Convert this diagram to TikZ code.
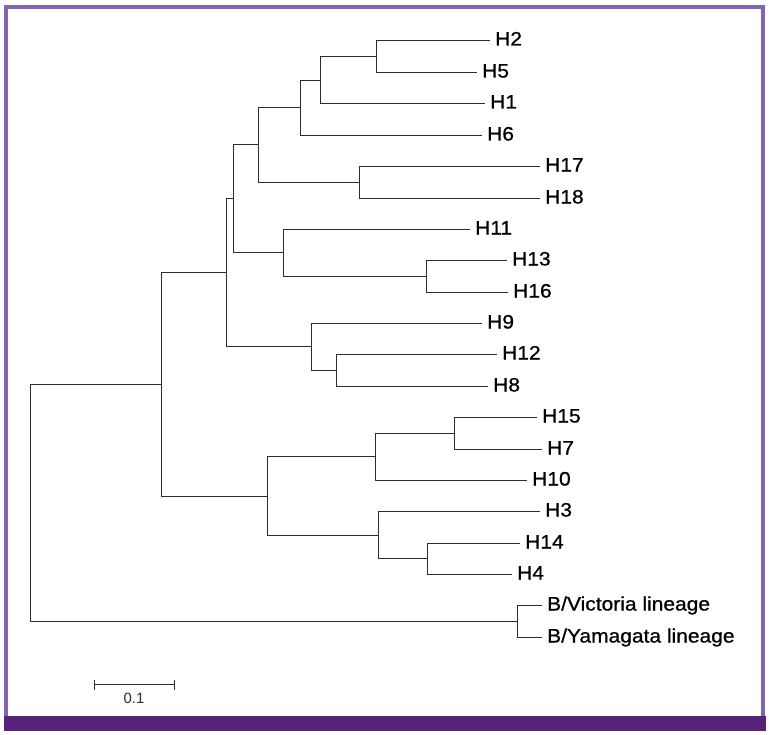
\documentclass[tikz,border=0pt]{standalone}
\usepackage{fontspec}
\newfontfamily\labfont[FakeStretch=1.08,FakeBold=0.8]{Liberation Sans}
\newfontfamily\sbfont{Liberation Sans}
\definecolor{brcol}{RGB}{45,45,45}
\definecolor{bordercol}{RGB}{132,100,178}
\definecolor{barcol}{RGB}{88,34,120}
\begin{document}
\begin{tikzpicture}[x=1bp,y=-1bp,
  br/.style={draw=brcol,line width=1.8bp},
  lab/.style={anchor=base west,inner sep=0pt,xshift=5bp,yshift=-5bp,font=\labfont\fontsize{19.5}{21}\selectfont,text=black},
  sblab/.style={anchor=base,inner sep=0pt,font=\sbfont\fontsize{15}{16}\selectfont,text=brcol}]
\useasboundingbox (0,0) rectangle (772,735);
\fill[white] (0,0) rectangle (772,735);
% frame
\draw[bordercol,line width=4bp] (5.5,716) -- (5.5,7.5) -- (763,7.5) -- (763,716);
\fill[barcol] (3.5,716) rectangle (765.5,730.5);
% internal nodes
\coordinate (n25) at (376.5,56.5);
\coordinate (n251) at (320.5,80.5);
\coordinate (n2516) at (300.5,107.5);
\coordinate (n1718) at (359.5,182.5);
\coordinate (nA) at (258.5,144.5);
\coordinate (n1316) at (426.5,276.5);
\coordinate (n11) at (283.5,252.5);
\coordinate (nB) at (233.5,198.5);
\coordinate (n128) at (336.5,370.5);
\coordinate (n9) at (311.5,346.5);
\coordinate (nC) at (226.5,272.5);
\coordinate (n157) at (454.5,433.5);
\coordinate (n10) at (375.5,456.5);
\coordinate (n144) at (427.5,558.5);
\coordinate (n3) at (378.5,535.5);
\coordinate (nD) at (267.5,496.5);
\coordinate (nE) at (161.5,384.5);
\coordinate (nBL) at (517.5,621.5);
\coordinate (root) at (30.5,503);
% leaf ends
\coordinate (eH2) at (490,40.5);
\coordinate (eH5) at (477,72.5);
\coordinate (eH1) at (485,103.5);
\coordinate (eH6) at (482,135.5);
\coordinate (eH17) at (540,166.5);
\coordinate (eH18) at (540,198.5);
\coordinate (eH11) at (470,229.5);
\coordinate (eH13) at (507,260.5);
\coordinate (eH16) at (508,292.5);
\coordinate (eH9) at (482,323.5);
\coordinate (eH12) at (497,354.5);
\coordinate (eH8) at (488,386.5);
\coordinate (eH15) at (537,417.5);
\coordinate (eH7) at (542,449.5);
\coordinate (eH10) at (527,480.5);
\coordinate (eH3) at (540,511.5);
\coordinate (eH14) at (520,543.5);
\coordinate (eH4) at (512,574.5);
\coordinate (eBV) at (542,605.5);
\coordinate (eBY) at (542,637.5);
% labels
\node[lab] (H2) at (eH2) {H2};
\node[lab] (H5) at (eH5) {H5};
\node[lab] (H1) at (eH1) {H1};
\node[lab] (H6) at (eH6) {H6};
\node[lab] (H17) at (eH17) {H17};
\node[lab] (H18) at (eH18) {H18};
\node[lab] (H11) at (eH11) {H11};
\node[lab] (H13) at (eH13) {H13};
\node[lab] (H16) at (eH16) {H16};
\node[lab] (H9) at (eH9) {H9};
\node[lab] (H12) at (eH12) {H12};
\node[lab] (H8) at (eH8) {H8};
\node[lab] (H15) at (eH15) {H15};
\node[lab] (H7) at (eH7) {H7};
\node[lab] (H10) at (eH10) {H10};
\node[lab] (H3) at (eH3) {H3};
\node[lab] (H14) at (eH14) {H14};
\node[lab] (H4) at (eH4) {H4};
\node[lab] (BV) at (eBV) {B/Victoria lineage};
\node[lab] (BY) at (eBY) {B/Yamagata lineage};
% branches
\draw[br] (n25) |- (eH2);
\draw[br] (n25) |- (eH5);
\draw[br] (n251) |- (n25);
\draw[br] (n251) |- (eH1);
\draw[br] (n2516) |- (n251);
\draw[br] (n2516) |- (eH6);
\draw[br] (n1718) |- (eH17);
\draw[br] (n1718) |- (eH18);
\draw[br] (nA) |- (n2516);
\draw[br] (nA) |- (n1718);
\draw[br] (n1316) |- (eH13);
\draw[br] (n1316) |- (eH16);
\draw[br] (n11) |- (eH11);
\draw[br] (n11) |- (n1316);
\draw[br] (nB) |- (nA);
\draw[br] (nB) |- (n11);
\draw[br] (n128) |- (eH12);
\draw[br] (n128) |- (eH8);
\draw[br] (n9) |- (eH9);
\draw[br] (n9) |- (n128);
\draw[br] (nC) |- (nB);
\draw[br] (nC) |- (n9);
\draw[br] (n157) |- (eH15);
\draw[br] (n157) |- (eH7);
\draw[br] (n10) |- (n157);
\draw[br] (n10) |- (eH10);
\draw[br] (n144) |- (eH14);
\draw[br] (n144) |- (eH4);
\draw[br] (n3) |- (eH3);
\draw[br] (n3) |- (n144);
\draw[br] (nD) |- (n10);
\draw[br] (nD) |- (n3);
\draw[br] (nE) |- (nC);
\draw[br] (nE) |- (nD);
\draw[br] (nBL) |- (eBV);
\draw[br] (nBL) |- (eBY);
\draw[br] (root) |- (nE);
\draw[br] (root) |- (nBL);
% scale bar
\coordinate (sb1) at (94.5,684.5);
\coordinate (sb2) at (174.5,684.5);
\draw[br] (sb1) -- (sb2);
\draw[br] ([yshift=5bp]sb1) -- ([yshift=-5bp]sb1);
\draw[br] ([yshift=5bp]sb2) -- ([yshift=-5bp]sb2);
\node[sblab] (sbl) at (134,703.5) {0.1};
\end{tikzpicture}
\end{document}
